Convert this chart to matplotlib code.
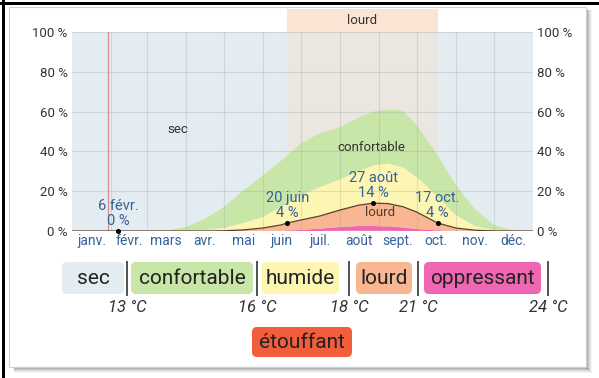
import matplotlib
matplotlib.use("Agg")
import matplotlib.pyplot as plt
from matplotlib.patches import Rectangle, FancyBboxPatch
from matplotlib.transforms import IdentityTransform, blended_transform_factory

plt.rcParams['font.family'] = ['Roboto', 'DejaVu Sans']

# ---- data -----------------------------------------------------------------
# day of year (Jan 1 = 0) for each sample
days = [0, 31, 59, 75, 90, 105, 120, 135, 151, 165, 170.5, 181, 196, 212,
        227, 238.5, 250, 262, 273, 282, 289.5, 304, 319, 334, 349, 365]

# share of hours (%) in each humidity comfort level
etouffant = [0, 0, 0, 0, 0, 0, 0, 0, 0, 0, 0, 0, 0, 0.1,
             0.2, 0.2, 0.1, 0, 0, 0, 0, 0, 0, 0, 0, 0]
oppressant = [0, 0, 0, 0, 0, 0, 0, 0, 0, 0.1, 0.3, 0.5, 1.2, 1.9,
              2.3, 2.3, 2.2, 1.8, 1.0, 0.6, 0.3, 0.05, 0, 0, 0, 0]
lourd = [0, 0, 0, 0, 0, 0, 0.1, 0.5, 1.5, 2.9, 3.7, 5.0, 6.3, 8.5,
         10.5, 11.5, 11.5, 10.4, 8.5, 5.9, 3.7, 1.45, 0.4, 0.05, 0, 0]
humide = [0, 0, 0, 0, 0, 0.5, 1.4, 3.5, 5.5, 9.0, 10.0, 12.5, 14.5, 15.5,
          17.0, 19.0, 20.2, 19.8, 17.5, 15.5, 13.0, 6.5, 2.1, 0.35, 0, 0]
confortable = [0, 0, 0, 0.2, 2, 5.5, 10.5, 16, 21, 23, 24, 26, 27, 26,
               27, 27, 27, 28.5, 26, 23, 21, 15, 8.5, 2.6, 0.5, 0]

# muggy (lourd or worse) probability callouts
callout_days = [36.5, 170.5, 238.5, 289.5]
callout_dates = ["6 févr.", "20 juin", "27 août", "17 oct."]
callout_values = [0, 4, 14, 4]

# muggy season
season_start, season_end = 170.5, 289.5
today_day = 28.5

month_starts = [0, 31, 59, 90, 120, 151, 181, 212, 243, 273, 304, 334, 365]
month_labels = ["janv.", "févr.", "mars", "avr.", "mai", "juin", "juil.",
                "août", "sept.", "oct.", "nov.", "déc."]
y_ticks = [0, 20, 40, 60, 80, 100]

legend_labels = ["sec", "confortable", "humide", "lourd", "oppressant"]
legend_extra = "étouffant"
legend_temps = ["13 °C", "16 °C", "18 °C", "21 °C", "24 °C"]

# ---- styling --------------------------------------------------------------
C_SEC = "#e3edf1"
C_CONF = "#c8e6a7"
C_HUM = "#fdf5b2"
C_LOURD = "#f8b792"
C_OPP = "#ef66b2"
C_ETOUF = "#f25d3b"
C_BAND = "#fcdcc8"
BLUE = "#34619a"
GREY_TXT = "#333333"

W, H = 599, 378
fig = plt.figure(figsize=(W / 100, H / 100), dpi=100)
fig.patch.set_facecolor("white")


def fig_px(x0, y0, x1, y1):
    """Rectangle from top-left pixel coordinates to display coords."""
    return x0, H - y1, x1 - x0, y1 - y0


ident = IdentityTransform()

# card shadow (right and bottom)
for i, a in enumerate([0.55, 0.42, 0.3, 0.2, 0.12, 0.06]):
    x, y, w, h = fig_px(586 + i, 10, 587 + i, 368 + i)
    fig.add_artist(Rectangle((x, y), w, h, transform=ident, color="#444", alpha=a, lw=0))
    x, y, w, h = fig_px(14, 367 + i, 587 + i, 368 + i)
    fig.add_artist(Rectangle((x, y), w, h, transform=ident, color="#444", alpha=a, lw=0))
# thin card outline
x, y, w, h = fig_px(9, 7, 586, 367)
fig.add_artist(Rectangle((x, y), w, h, transform=ident, fill=False, ec="#d0d0d0", lw=0.8))
# black frame lines on top and left
x, y, w, h = fig_px(0, 2, W, 5)
fig.add_artist(Rectangle((x, y), w, h, transform=ident, color="black", lw=0))
x, y, w, h = fig_px(2, 0, 5, H)
fig.add_artist(Rectangle((x, y), w, h, transform=ident, color="black", lw=0))

# ---- chart ----------------------------------------------------------------
ax = fig.add_axes([72 / W, 1 - 231 / H, 461 / W, 199 / H])
ax.set_xlim(0, 365)
ax.set_ylim(0, 100)
ax.set_facecolor(C_SEC)
for s in ax.spines.values():
    s.set_visible(False)

# muggy season tint inside the plot and header strip above it
ax.axvspan(season_start, season_end, color=C_BAND, alpha=0.4, lw=0, zorder=0.5)
tr = blended_transform_factory(ax.transData, ax.transAxes)
ax.add_patch(Rectangle((season_start, 1.0), season_end - season_start, 0.116,
                       transform=tr, color=C_BAND, alpha=0.75, lw=0, clip_on=False))
ax.text((season_start + season_end) / 2, 1.058, "lourd", transform=tr,
        ha="center", va="center", fontsize=9.5, color=GREY_TXT)

ax.stackplot(days, etouffant, oppressant, lourd, humide, confortable,
             colors=[C_ETOUF, C_OPP, C_LOURD, C_HUM, C_CONF], lw=0, zorder=1)

# boundary line of the muggy share
muggy = [e + o + l for e, o, l in zip(etouffant, oppressant, lourd)]
ax.plot(days, muggy, color="#5b4033", lw=0.9, zorder=3)

# grid
for m in month_starts[1:-1]:
    ax.axvline(m, color="#8a9aa2", alpha=0.25, lw=0.8, zorder=2)
for t in y_ticks[1:]:
    ax.axhline(t, color="#8a9aa2", alpha=0.25, lw=0.8, zorder=2)

# current date marker
ax.axvline(today_day, color="#e08a8a", lw=0.9, zorder=2.5)

# region labels
ax.text(84, 51, "sec", ha="center", va="center", fontsize=9.5, color=GREY_TXT, zorder=4)
ax.text(237, 42, "confortable", ha="center", va="center", fontsize=9.5, color=GREY_TXT, zorder=4)
ax.text(244, 9.5, "lourd", ha="center", va="center", fontsize=9.5, color="#5a3a2c", zorder=4)

# callouts
for d, lab, v in zip(callout_days, callout_dates, callout_values):
    ax.plot([d], [v], "o", color="black", ms=2.6, zorder=5, clip_on=False)
    ax.annotate(f"{v} %", (d, v), xytext=(0, 10), textcoords="offset pixels",
                ha="center", va="center", fontsize=10.5, color=BLUE, zorder=5)
    ax.annotate(lab, (d, v), xytext=(0, 25), textcoords="offset pixels",
                ha="center", va="center", fontsize=10.5, color=BLUE, zorder=5)

# axes ticks
mids = [(a + b) / 2 for a, b in zip(month_starts[:-1], month_starts[1:])]
ax.set_xticks(mids)
ax.set_xticklabels(month_labels, fontsize=10, color=BLUE)
ax.set_yticks(y_ticks)
ax.set_yticklabels([f"{t} %" for t in y_ticks], fontsize=9.5, color=GREY_TXT)
ax.tick_params(axis="both", length=0)
ax.tick_params(axis="x", pad=2.5)
ax.tick_params(axis="y", pad=3, labelleft=True, labelright=True)

# ---- legend ---------------------------------------------------------------
box_px = [(62, 124), (131, 253), (262, 339), (356, 412), (424, 541)]
box_cols = [C_SEC, C_CONF, C_HUM, C_LOURD, C_OPP]
sep_px = [127, 257, 349, 418, 548]
for (x0, x1), col, lab in zip(box_px, box_cols, legend_labels):
    x, y, w, h = fig_px(x0, 262, x1, 294)
    fig.add_artist(FancyBboxPatch((x, y), w, h, boxstyle="round,pad=0,rounding_size=5",
                                  transform=ident, fc=col, ec="none"))
    fig.text((x0 + x1) / 2 / W, 1 - 278 / H, lab, ha="center", va="center",
             fontsize=15, color="#222")
for sx, tl in zip(sep_px, legend_temps):
    x, y, w, h = fig_px(sx - 0.6, 261, sx + 0.6, 296)
    fig.add_artist(Rectangle((x, y), w, h, transform=ident, color="#555", lw=0))
    fig.text(sx / W, 1 - 307 / H, tl, ha="center", va="center", fontsize=12,
             style="italic", color="#333")
x, y, w, h = fig_px(252, 327, 352, 357)
fig.add_artist(FancyBboxPatch((x, y), w, h, boxstyle="round,pad=0,rounding_size=5",
                              transform=ident, fc=C_ETOUF, ec="none"))
fig.text(302 / W, 1 - 342 / H, legend_extra, ha="center", va="center",
         fontsize=15, color="#222")

fig.savefig("out.png", dpi=100)
